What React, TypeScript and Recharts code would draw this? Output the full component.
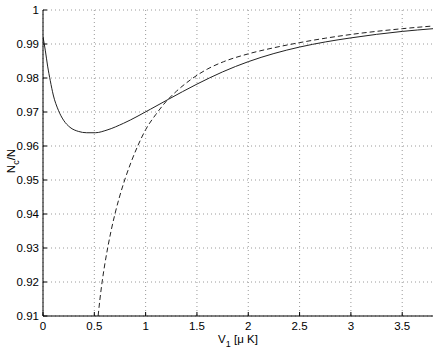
import React from "react";
import { LineChart, Line, XAxis, YAxis, CartesianGrid } from "recharts";

const solidX = [0, 0.022, 0.045, 0.071, 0.1, 0.15, 0.2, 0.263, 0.344, 0.426, 0.51, 0.624, 0.786, 1.046, 1.22, 1.5, 1.75, 2.0, 2.25, 2.5, 2.75, 3.0, 3.5, 3.8];
const solidY = [0.9921, 0.9882, 0.9835, 0.9792, 0.975, 0.9705, 0.9676, 0.9655, 0.9643, 0.9639, 0.9639, 0.9647, 0.9667, 0.9708, 0.9737, 0.9782, 0.9818, 0.9848, 0.9872, 0.9891, 0.9906, 0.9918, 0.9937, 0.9945];

const dashedX = [0.537, 0.555, 0.576, 0.601, 0.63, 0.663, 0.701, 0.745, 0.796, 0.855, 0.923, 1.0, 1.1, 1.2, 1.3, 1.434, 1.6, 1.76, 2.0, 2.25, 2.5, 2.75, 3.0, 3.5, 3.8];
const dashedY = [0.91, 0.915, 0.92, 0.925, 0.93, 0.935, 0.94, 0.945, 0.95, 0.955, 0.96, 0.9648, 0.9693, 0.9731, 0.9761, 0.9794, 0.9826, 0.9848, 0.9871, 0.9889, 0.9904, 0.9917, 0.9928, 0.9945, 0.9953];

const xTicks = [0, 0.5, 1, 1.5, 2, 2.5, 3, 3.5];
const yTicks = [0.91, 0.92, 0.93, 0.94, 0.95, 0.96, 0.97, 0.98, 0.99, 1];

const solidData = solidX.map((x, i) => ({ x, y: solidY[i] }));
const dashedData = dashedX.map((x, i) => ({ x, y: dashedY[i] }));

const FONT = "'Liberation Sans', Arial, Helvetica, sans-serif";
const tickStyle = { fontSize: 11.5, fill: "#000", fontFamily: FONT };

const fmtY = (v: number) => (v === 1 ? "1" : v.toFixed(2));

export default function App() {
  return (
    <div style={{ position: "absolute", left: 0, top: 0 }}>
      <LineChart
        width={436}
        height={350}
        margin={{ top: 10, right: 3, bottom: 0, left: 0 }}
      >
        <CartesianGrid
          stroke="#9a9a9a"
          strokeDasharray="1 3"
          verticalValues={xTicks}
          horizontalValues={yTicks}
          xAxisId="b"
          yAxisId="l"
        />
        <XAxis
          xAxisId="b"
          type="number"
          dataKey="x"
          domain={[0, 3.8]}
          ticks={xTicks}
          allowDataOverflow
          height={34}
          tickSize={-4}
          tickMargin={10}
          tick={tickStyle}
          stroke="#000"
          tickFormatter={(v: number) => String(v)}
          label={{
            content: (props: any) => {
              const vb = props.viewBox;
              const cx = vb.x + vb.width / 2;
              return (
                <text x={cx} y={343} textAnchor="middle" fontFamily={FONT} fontSize={11.5} fill="#000">
                  <tspan>V</tspan>
                  <tspan dy={4} fontSize={9}>1</tspan>
                  <tspan dy={-4}> [μ K]</tspan>
                </text>
              );
            },
          }}
        />
        <XAxis
          xAxisId="t"
          orientation="top"
          type="number"
          dataKey="x"
          domain={[0, 3.8]}
          ticks={xTicks}
          height={0}
          tickSize={-4}
          tick={false}
          stroke="#000"
        />
        <YAxis
          yAxisId="l"
          type="number"
          domain={[0.91, 1]}
          ticks={yTicks}
          allowDataOverflow
          width={43}
          tickSize={-4}
          tickMargin={8}
          tick={tickStyle}
          stroke="#000"
          tickFormatter={fmtY}
          label={{
            content: () => (
              <text
                transform="translate(15,161) rotate(-90)"
                textAnchor="middle"
                fontFamily={FONT}
                fontSize={11.5}
                fill="#000"
              >
                <tspan>N</tspan>
                <tspan dy={4} fontSize={9}>c</tspan>
                <tspan dy={-4}>/N</tspan>
              </text>
            ),
          }}
        />
        <YAxis
          yAxisId="r"
          orientation="right"
          type="number"
          domain={[0.91, 1]}
          ticks={yTicks}
          width={0}
          tickSize={-4}
          tick={false}
          stroke="#000"
        />
        <Line
          xAxisId="b"
          yAxisId="l"
          data={solidData}
          dataKey="y"
          type="monotone"
          stroke="#222"
          strokeWidth={1}
          dot={false}
          isAnimationActive={false}
        />
        <Line
          xAxisId="b"
          yAxisId="l"
          data={dashedData}
          dataKey="y"
          type="monotone"
          stroke="#222"
          strokeWidth={1}
          strokeDasharray="5 3"
          dot={false}
          isAnimationActive={false}
        />
      </LineChart>
    </div>
  );
}
